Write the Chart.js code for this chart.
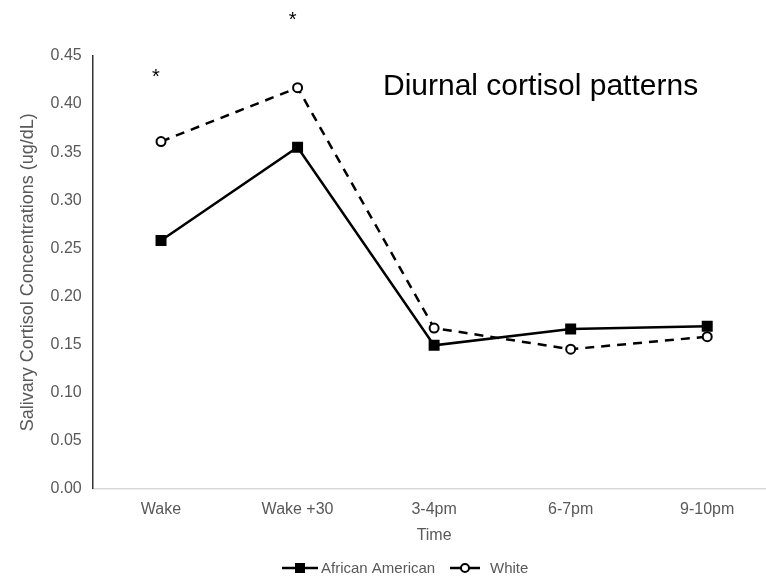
<!DOCTYPE html>
<html>
<head>
<meta charset="utf-8">
<script src="https://cdn.jsdelivr.net/npm/chart.js@4"></script>
<style>
  html, body { margin: 0; padding: 0; background: #fff; overflow: hidden; }
  #wrap { width: 784px; height: 584px; }
</style>
</head>
<body>
<div id="wrap"><canvas id="myChart"></canvas></div>
<script>
const times = ['Wake', 'Wake +30', '3-4pm', '6-7pm', '9-10pm'];
const africanAmerican = [0.258, 0.355, 0.149, 0.166, 0.169];
const white = [0.361, 0.417, 0.167, 0.145, 0.158];
const yTicks = [0, 0.05, 0.10, 0.15, 0.20, 0.25, 0.30, 0.35, 0.40, 0.45];
// significance markers and the pixel height they sit at
const stars = ['*', '*', '', '', ''];
const starY = [77, 20, 0, 0, 0];

const grey = '#595959';
const font = 'Liberation Sans, Arial, sans-serif';

// title, asterisks and the line+marker legend
const extras = {
    id: 'extras',
    afterDraw(chart) {
        const ctx = chart.ctx;
        const x = chart.scales.x;
        ctx.save();
        ctx.fillStyle = '#000';
        ctx.font = '30px ' + font;
        ctx.textBaseline = 'middle';
        ctx.fillText('Diurnal cortisol patterns', 383, 87);

        ctx.font = '20px ' + font;
        ctx.textAlign = 'center';
        stars.forEach((s, i) => {
            if (s) ctx.fillText(s, x.getPixelForValue(i) - 5, starY[i]);
        });

        // legend
        ctx.textAlign = 'left';
        ctx.font = '15px ' + font;
        const ly = 568;
        ctx.strokeStyle = '#000';
        ctx.lineWidth = 2.5;
        ctx.beginPath(); ctx.moveTo(282, ly); ctx.lineTo(318, ly); ctx.stroke();
        ctx.fillStyle = '#000';
        ctx.fillRect(295, ly - 5, 10, 10);
        ctx.fillStyle = grey;
        ctx.fillText('African American', 321, ly + 1);
        ctx.beginPath(); ctx.moveTo(450, ly); ctx.lineTo(480, ly); ctx.stroke();
        ctx.fillStyle = '#fff';
        ctx.lineWidth = 2;
        ctx.beginPath(); ctx.arc(465, ly, 4, 0, Math.PI * 2); ctx.fill(); ctx.stroke();
        ctx.fillStyle = grey;
        ctx.fillText('White', 490, ly + 1);
        ctx.restore();
    }
};

new Chart('myChart', {
    type: 'line',
    data: {
        labels: times,
        datasets: [
            {
                label: 'African American',
                data: africanAmerican,
                borderColor: '#000',
                backgroundColor: '#000',
                borderWidth: 2.5,
                pointStyle: 'rect',
                pointRadius: 6,
                pointHoverRadius: 6,
                tension: 0,
                fill: false
            },
            {
                label: 'White',
                data: white,
                borderColor: '#000',
                backgroundColor: '#fff',
                borderWidth: 2.5,
                borderDash: [9, 7],
                pointStyle: 'circle',
                pointRadius: 4.5,
                pointHoverRadius: 4.5,
                pointBorderWidth: 2,
                tension: 0,
                fill: false
            }
        ]
    },
    options: {
        responsive: true,
        maintainAspectRatio: false,
        animation: false,
        layout: { padding: { top: 56, bottom: 39, left: 15, right: 6 } },
        plugins: {
            legend: { display: false },
            tooltip: { enabled: false }
        },
        scales: {
            x: {
                offset: true,
                grid: { display: false, drawTicks: false },
                border: { color: '#d9d9d9', width: 1.5 },
                ticks: { color: grey, font: { family: font, size: 16 }, padding: 11 },
                title: { display: true, text: 'Time', color: grey, font: { family: font, size: 16 }, padding: { top: -4, bottom: 0 } }
            },
            y: {
                min: 0,
                max: 0.45,
                afterBuildTicks(axis) { axis.ticks = yTicks.map(v => ({ value: v })); },
                grid: { display: false, drawTicks: false },
                border: { color: '#333', width: 1.5 },
                ticks: {
                    color: grey,
                    font: { family: font, size: 16 },
                    padding: 11,
                    callback: v => v.toFixed(2)
                },
                title: { display: true, text: 'Salivary Cortisol Concentrations (ug/dL)', color: grey, font: { family: font, size: 18 }, padding: { top: 2, bottom: 1 } }
            }
        }
    },
    plugins: [extras]
});
</script>
</body>
</html>
